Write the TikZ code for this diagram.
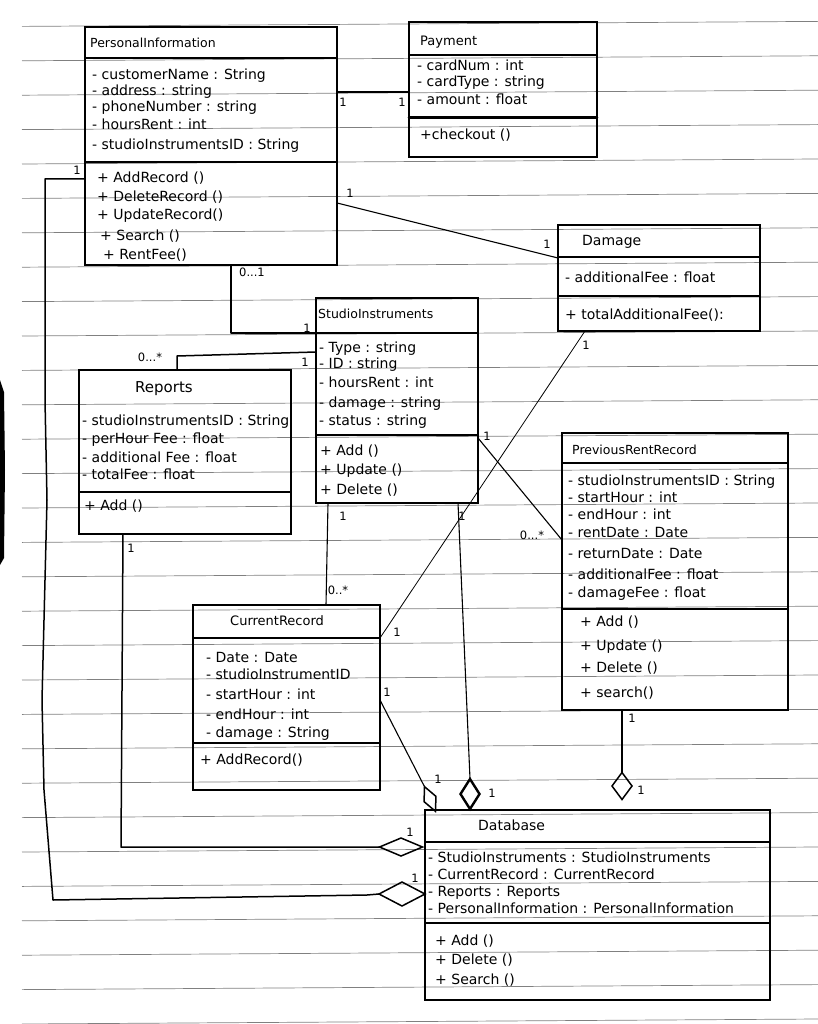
\documentclass[tikz,border=0pt]{standalone}
\usepackage{fontspec}
\setmainfont{DejaVu Sans}
\usetikzlibrary{calc,shapes.geometric}
\tikzset{
  pen/.style={line width=1.5pt, black, line cap=round, line join=round},
  paper/.style={line width=0.7pt, black!50},
  box/.style={draw, line width=1.8pt, inner sep=0pt, outer sep=0pt, anchor=north west},
  sepline/.style={line width=1.6pt, line cap=round},
  txt/.style={anchor=mid west, inner sep=0pt, font=\fontsize{14}{16}\selectfont},
  ttl/.style={txt, font=\fontsize{13}{16}\selectfont},
  mult/.style={inner sep=0pt, font=\fontsize{11.5}{12}\selectfont},
  agg/.style={draw, diamond, line width=1.5pt, inner sep=0pt, outer sep=0pt}
}
\newcommand\umlbox[5]{\node[box, minimum width=#4pt, minimum height=#5pt] (#1) at (#2,#3) {};}
\newcommand\tl[4][txt]{\node[#1] (#2) at (#3) {#4};}
\newcommand\ml[3]{\node[mult] (#1) at (#2) {#3};}
\begin{document}
\begin{tikzpicture}[x=1pt,y=-1pt]
\useasboundingbox (0,0) rectangle (818,1024);
% lined paper
\foreach \k in {0,...,29}{
  \draw[paper] (22,{24.4+34.4*\k+2}) -- (818,{24.4+34.4*\k-3});
}
% scan smear at the left edge
\fill[black] (0,380) -- (4,392) -- (5,470) -- (4,558) -- (0,565) -- cycle;

% ---------------- class boxes ----------------
\umlbox{PI}{85}{27}{252}{238}
\draw[sepline] (85,58) -- (337,58);
\draw[sepline] (85,162) -- (337,162);

\umlbox{Pay}{409}{22}{188}{135}
\draw[sepline] (409,55) -- (597,55);
\draw[sepline, line width=2.6pt] (409,117.5) -- (597,117.5);

\umlbox{Dam}{558}{225}{202}{106}
\draw[sepline] (558,257) -- (760,257);
\draw[sepline] (558,296) -- (760,296);

\umlbox{SI}{316}{298}{162}{205}
\draw[sepline] (316,333) -- (478,333);
\draw[sepline] (316,435) -- (478,435);

\umlbox{Rep}{79}{370}{212}{164}
\draw[sepline] (79,492) -- (291,492);

\umlbox{PRR}{562}{433}{226}{277}
\draw[sepline] (562,463) -- (788,463);
\draw[sepline, line width=2.4pt] (562,609) -- (788,609);

\umlbox{CR}{193}{605}{187}{185}
\draw[sepline] (193,638) -- (380,638);
\draw[sepline] (193,743) -- (380,743);

\umlbox{DB}{425}{810}{345}{190}
\draw[sepline] (425,842) -- (770,842);
\draw[sepline] (425,923) -- (770,923);

% ---------------- texts ----------------
% PersonalInformation
\tl[ttl, font=\fontsize{12.5}{14}\selectfont]{tPI}{90,45}{PersonalInformation}
\tl{pa1}{92,77}{- customerName : String}
\tl{pa2}{92,93}{- address : string}
\tl{pa3}{92,109}{- phoneNumber : string}
\tl{pa4}{92,127}{- hoursRent : int}
\tl{pa5}{92,147}{- studioInstrumentsID : String}
\tl{pm1}{97,180}{+ AddRecord ()}
\tl{pm2}{97,199}{+ DeleteRecord ()}
\tl{pm3}{97,217}{+ UpdateRecord()}
\tl{pm4}{100,238}{+ Search ()}
\tl{pm5}{103,257}{+ RentFee()}
% Payment
\tl[ttl]{tPay}{420,43}{Payment}
\tl{ya1}{417,68}{- cardNum : int}
\tl{ya2}{417,84}{- cardType : string}
\tl{ya3}{417,102}{- amount : float}
\tl{ym1}{420,137}{+checkout ()}
% Damage
\tl[ttl, font=\fontsize{14}{16}\selectfont]{tDam}{582,243}{Damage}
\tl{da1}{565,280}{- additionalFee : float}
\tl{dm1}{565,317}{+ totalAdditionalFee():}
% StudioInstruments
\tl[ttl, font=\fontsize{12.5}{15}\selectfont]{tSI}{318,316}{StudioInstruments}
\tl{sa1}{319,350}{- Type : string}
\tl{sa2}{319,366}{- ID : string}
\tl{sa3}{319,385}{- hoursRent : int}
\tl{sa4}{319,405}{- damage : string}
\tl{sa5}{319,423}{- status : string}
\tl{sm1}{320,453}{+ Add ()}
\tl{sm2}{320,472}{+ Update ()}
\tl{sm3}{320,492}{+ Delete ()}
% Reports
\tl[ttl, font=\fontsize{15}{17}\selectfont]{tRep}{135,390}{Reports}
\tl{ra1}{82,423}{- studioInstrumentsID : String}
\tl{ra2}{82,441}{- perHour Fee : float}
\tl{ra3}{82,460}{- additional Fee : float}
\tl{ra4}{82,477}{- totalFee : float}
\tl{rm1}{84,508}{+ Add ()}
% PreviousRentRecord
\tl[ttl, font=\fontsize{12.5}{15}\selectfont]{tPRR}{572,452}{PreviousRentRecord}
\tl{qa1}{568,483}{- studioInstrumentsID : String}
\tl{qa2}{568,500}{- startHour : int}
\tl{qa3}{568,517}{- endHour : int}
\tl{qa4}{568,535}{- rentDate : Date}
\tl{qa5}{568,556}{- returnDate : Date}
\tl{qa6}{568,577}{- additionalFee : float}
\tl{qa7}{568,595}{- damageFee : float}
\tl{qm1}{580,624}{+ Add ()}
\tl{qm2}{580,648}{+ Update ()}
\tl{qm3}{580,670}{+ Delete ()}
\tl{qm4}{580,695}{+ search()}
% CurrentRecord
\tl[ttl]{tCR}{230,623}{CurrentRecord}
\tl{ca1}{206,660}{- Date : Date}
\tl{ca2}{206,677}{- studioInstrumentID}
\tl{ca3}{206,697}{- startHour : int}
\tl{ca4}{206,717}{- endHour : int}
\tl{ca5}{206,735}{- damage : String}
\tl{cm1}{200,762}{+ AddRecord()}
% Database
\tl[ttl, font=\fontsize{14}{16}\selectfont]{tDB}{478,828}{Database}
\tl{ba1}{428,860}{- StudioInstruments : StudioInstruments}
\tl{ba2}{428,877}{- CurrentRecord : CurrentRecord}
\tl{ba3}{428,894}{- Reports : Reports}
\tl{ba4}{428,911}{- PersonalInformation : PersonalInformation}
\tl{bm1}{435,943}{+ Add ()}
\tl{bm2}{435,962}{+ Delete ()}
\tl{bm3}{435,982}{+ Search ()}

% ---------------- aggregation diamonds ----------------
\node[agg, minimum width=43pt, minimum height=18pt] (dRep) at (401,847) {};
\node[agg, minimum width=46pt, minimum height=24pt] (dPI) at (402,894) {};
\node[agg, minimum width=27pt, minimum height=13pt, rotate=-66] (dCR) at (430,799) {};
\node[agg, line width=2.4pt, minimum width=19pt, minimum height=30pt] (dSI) at (470,794) {};
\node[agg, minimum width=20pt, minimum height=27pt] (dPRR) at (622,786) {};

% ---------------- connectors ----------------
\draw[pen] ($(PI.north east)+(0,65)$) -- ($(Pay.north west)+(0,70)$);
\draw[pen, line width=1.1pt] ($(PI.north east)+(0,176)$) -- ($(Dam.north west)+(0,33)$);
\draw[pen] ($(PI.south west)+(146,0)$) -- (231,333) -- ($(SI.north west)+(0,35)$);
\draw[pen] ($(Rep.north west)+(98,0)$) -- (177,356) -- ($(SI.north west)+(0,54)$);
\draw[pen, line width=1.1pt] ($(SI.north east)+(0,140)$) -- ($(PRR.north west)+(0,107)$);
\draw[pen, line width=1.1pt] ($(SI.south west)+(12,0)$) -- ($(CR.north west)+(133,0)$);
\draw[pen, line width=1.1pt] ($(SI.south west)+(142,0)$) -- (dSI.north);
\draw[pen, line width=0.8pt] ($(Dam.south west)+(27,0)$) -- ($(CR.north east)+(0,33)$);
\draw[pen, line width=1.1pt] ($(CR.north east)+(0,95)$) -- (dCR.west);
\draw[pen, line width=1.1pt] ($(PRR.south west)+(60,0)$) -- (dPRR.north);
\draw[pen] ($(Rep.south west)+(44,0)$) -- (121,847) -- (dRep.west);
\draw[pen] ($(PI.north west)+(0,152)$) -- (45,179) -- (45,400) -- (47,500)
  -- (42,700) -- (44,790) -- (53,900) -- (367,895) -- (dPI.west);

% ---------------- multiplicities ----------------
\ml{n1}{343,102}{1}
\ml{n2}{402,102}{1}
\ml{n3}{350,193}{1}
\ml{n4}{547,244}{1}
\ml{n5}{252,272}{0...1}
\ml{n6}{307,328}{1}
\ml{n7}{150,357}{0...*}
\ml{n8}{305,362}{1}
\ml{n9}{487,436}{1}
\ml{n10}{532,535}{0...*}
\ml{n11}{343,516}{1}
\ml{n12}{338,590}{0..*}
\ml{n13}{462,516}{1}
\ml{n14}{492,793}{1}
\ml{n15}{586,345}{1}
\ml{n16}{397,632}{1}
\ml{n17}{387,692}{1}
\ml{n18}{438,779}{1}
\ml{n19}{632,718}{1}
\ml{n20}{641,790}{1}
\ml{n21}{410,832}{1}
\ml{n22}{415,878}{1}
\ml{n23}{77,170}{1}
\ml{n24}{131,548}{1}
\end{tikzpicture}
\end{document}
